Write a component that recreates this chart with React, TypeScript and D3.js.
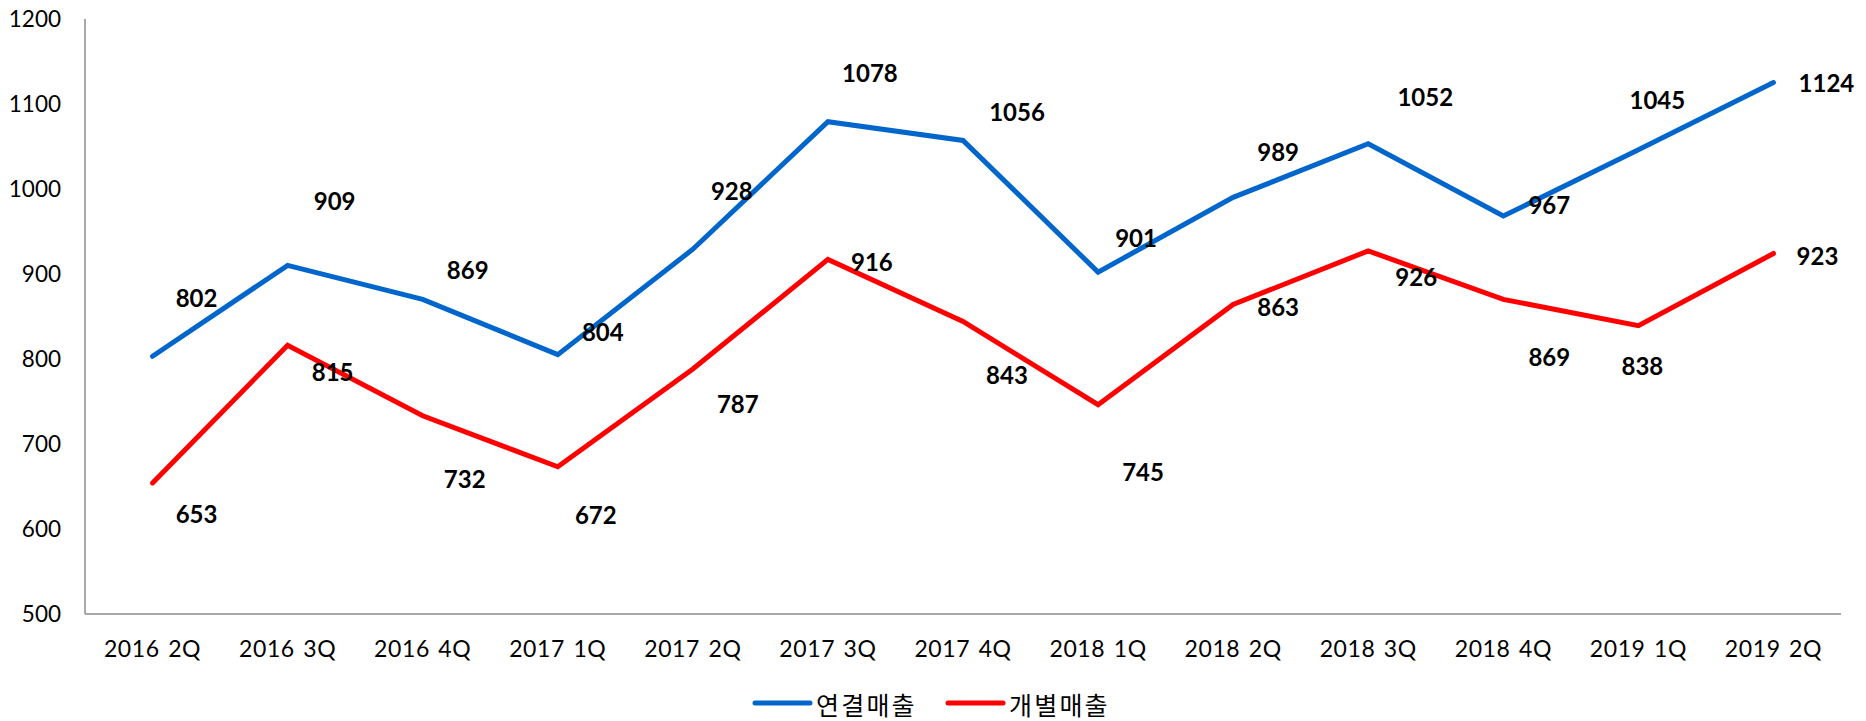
import React from "react";
import * as d3 from "d3";

const categories = [
  "2016 2Q", "2016 3Q", "2016 4Q", "2017 1Q", "2017 2Q", "2017 3Q", "2017 4Q",
  "2018 1Q", "2018 2Q", "2018 3Q", "2018 4Q", "2019 1Q", "2019 2Q",
];
const consolidatedSales = [802, 909, 869, 804, 928, 1078, 1056, 901, 989, 1052, 967, 1045, 1124];
const separateSales = [653, 815, 732, 672, 787, 916, 843, 745, 863, 926, 869, 838, 923];
const yTicks = [500, 600, 700, 800, 900, 1000, 1100, 1200];
const seriesNames = ["연결매출", "개별매출"];
const seriesColors = ["#0066CC", "#FF0000"];

// label placement offsets (pixels, relative to each point)
const blueLabelDx = [44, 47, 45, 45, 39, 42, 54, 38, 45, 57, 46, 19, 53];
const blueLabelDy = [-59, -65, -30, -23, -59, -49, -29, -35, -46, -47, -12, -50, 0];
const redLabelDx = [44, 45, 42, 38, 45, 44, 44, 45, 45, 48, 46, 4, 44];
const redLabelDy = [31, 26, 63, 48, 34, 2, 53, 67, 2, 26, 57, 40, 2];

const W = 1866;
const H = 721;
const LEFT = 85;
const RIGHT = 1841;
const TOP = 18;
const BOTTOM = 613;

export default function App() {
  const x = d3.scaleBand<string>().domain(categories).range([LEFT, RIGHT]);
  const y = d3.scaleLinear().domain([500, 1200]).range([BOTTOM, TOP]);
  const cx = (c: string) => (x(c) as number) + x.bandwidth() / 2;

  const line = d3
    .line<number>()
    .x((_, i) => cx(categories[i]))
    .y((d) => y(d));

  const series = [
    { name: seriesNames[0], values: consolidatedSales, color: seriesColors[0], dx: blueLabelDx, dy: blueLabelDy },
    { name: seriesNames[1], values: separateSales, color: seriesColors[1], dx: redLabelDx, dy: redLabelDy },
  ];

  const legendX = [755, 948];

  return (
    <svg
      width={W}
      height={H}
      style={{ position: "absolute", left: 0, top: 0, display: "block", background: "#fff" }}
    >
      <line x1={LEFT} x2={LEFT} y1={19} y2={BOTTOM + 1} stroke="#8c8c8c" strokeWidth={1.5} />
      <line x1={LEFT} x2={RIGHT} y1={BOTTOM + 1} y2={BOTTOM + 1} stroke="#8c8c8c" strokeWidth={1.5} />

      {yTicks.map((t) => (
        <text
          key={t}
          x={61}
          y={y(t)}
          textAnchor="end"
          dominantBaseline="central"
          fontFamily="Lato, sans-serif"
          fontSize={22.5}
          fill="#000"
        >
          {t}
        </text>
      ))}

      {categories.map((c) => (
        <text
          key={c}
          x={cx(c)}
          y={648}
          textAnchor="middle"
          dominantBaseline="central"
          fontFamily="Lato, sans-serif"
          fontSize={23}
          letterSpacing={0.6}
          wordSpacing={2}
          fill="#000"
        >
          {c}
        </text>
      ))}

      {series.map((s) => (
        <path
          key={s.name}
          d={line(s.values) || ""}
          fill="none"
          stroke={s.color}
          strokeWidth={5}
          strokeLinejoin="miter"
          strokeLinecap="round"
        />
      ))}

      {series.map((s) =>
        s.values.map((v, i) => (
          <text
            key={s.name + i}
            x={cx(categories[i]) + s.dx[i]}
            y={y(v) + s.dy[i]}
            textAnchor="middle"
            dominantBaseline="central"
            fontFamily="Lato, sans-serif"
            fontWeight="bold"
            fontSize={24}
            fill="#000"
          >
            {v}
          </text>
        ))
      )}

      {series.map((s, i) => (
        <g key={"lg" + s.name}>
          <line
            x1={legendX[i]}
            x2={legendX[i] + 55}
            y1={703}
            y2={703}
            stroke={s.color}
            strokeWidth={5}
            strokeLinecap="round"
          />
          <text
            x={legendX[i] + 61}
            y={704}
            dominantBaseline="central"
            fontFamily="'Noto Sans CJK KR', sans-serif"
            fontSize={25}
            letterSpacing={2.2}
            fill="#000"
          >
            {s.name}
          </text>
        </g>
      ))}
    </svg>
  );
}
